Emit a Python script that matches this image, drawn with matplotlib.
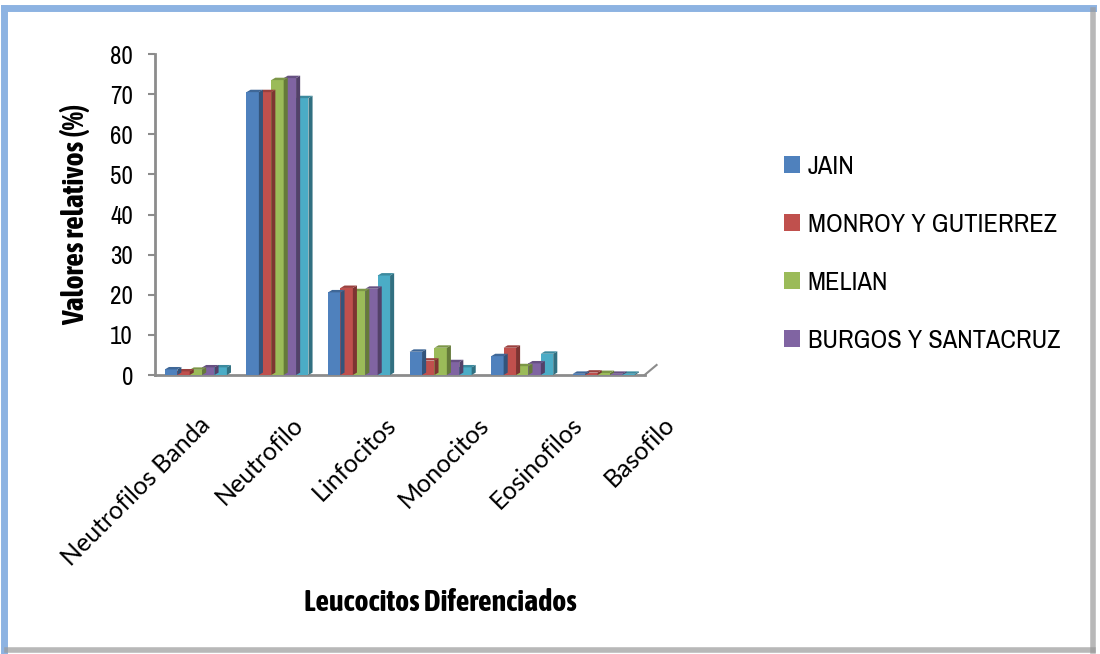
import matplotlib.pyplot as plt
import matplotlib.colors as mcolors
from matplotlib import font_manager as fm
from matplotlib.patches import Polygon
import numpy as np

# Datos
categorias = ['Neutrofilos Banda', 'Neutrofilo', 'Linfocitos', 'Monocitos', 'Eosinofilos', 'Basofilo']
jain = [1.4, 70.5, 20.6, 5.8, 4.7, 0.3]
monroy = [0.9, 70.5, 21.7, 3.6, 6.8, 0.6]
melian = [1.3, 73.5, 20.9, 6.8, 2.2, 0.5]
burgos = [1.9, 74.0, 21.5, 3.2, 2.9, 0.3]
quinta = [1.9, 69.0, 24.8, 1.9, 5.3, 0.3]

series = [jain, monroy, melian, burgos, quinta]
nombres = ['JAIN', 'MONROY Y GUTIERREZ', 'MELIAN', 'BURGOS Y SANTACRUZ', None]
colores = ['#4F81BD', '#C0504D', '#9BBB59', '#8064A2', '#4BACC6']


def peso(f):
    wgt = f.weight
    if isinstance(wgt, str):
        wgt = fm.weight_dict.get(wgt, 400)
    return int(wgt)


# buscar una fuente estrecha si existe (y una con negrita)
nombres_fuentes = sorted({f.name for f in fm.fontManager.ttflist})
estrechas = [n for n in nombres_fuentes if 'Narrow' in n or 'Condensed' in n]
estrechas_negrita = [n for n in estrechas
                     if any(f.name == n and peso(f) >= 600 for f in fm.fontManager.ttflist)]
fuente = estrechas[:1] + ['Liberation Sans', 'DejaVu Sans']
fuente_negrita = estrechas_negrita[:1] + ['Roboto', 'DejaVu Sans']
fuente_ejes = ['Lato', 'Open Sans', 'DejaVu Sans']
plt.rcParams['font.family'] = fuente

fig = plt.figure(figsize=(11, 6.54), dpi=100)

# marco del grafico (borde azul arriba/izquierda, sombra gris)
fig.add_artist(plt.Line2D([0.004, 0.004], [0.005, 0.988], color='#8DB3E2', lw=5, transform=fig.transFigure))
fig.add_artist(plt.Line2D([0.004, 0.994], [0.988, 0.988], color='#8DB3E2', lw=5, transform=fig.transFigure))
fig.add_artist(plt.Line2D([0.994, 0.994], [0.005, 0.985], color='#9A9A9A', lw=4, alpha=0.7, transform=fig.transFigure))
fig.add_artist(plt.Line2D([0.006, 0.994], [0.006, 0.006], color='#9A9A9A', lw=4, alpha=0.7, transform=fig.transFigure))

ax = fig.add_axes([0.141, 0.4266, 0.445, 0.4908])
ax.set_xlim(-0.5, 5.5)
ax.set_ylim(0, 80)

x = np.arange(len(categorias))
w = 0.152
dx, dy = 0.05, 0.6


def oscuro(c, f=0.65):
    r, g, b = mcolors.to_rgb(c)
    return (r * f, g * f, b * f)


for i, (vals, col, nom) in enumerate(zip(series, colores, nombres)):
    pos = x + (i - 2) * w
    ax.bar(pos, vals, width=w, color=col, edgecolor='none', label=nom if nom else '_nolegend_', zorder=3)
    for p, h in zip(pos, vals):
        x0 = p - w / 2
        x1 = p + w / 2
        lado = Polygon([(x1, 0), (x1 + dx, dy), (x1 + dx, h + dy), (x1, h)],
                       closed=True, facecolor=oscuro(col), edgecolor='none', zorder=3 + 0.1 * (5 - i), clip_on=False)
        tapa = Polygon([(x0, h), (x0 + dx, h + dy), (x1 + dx, h + dy), (x1, h)],
                       closed=True, facecolor=oscuro(col, 0.8), edgecolor='none', zorder=3 + 0.1 * (5 - i), clip_on=False)
        ax.add_patch(lado)
        ax.add_patch(tapa)

# piso
ax.plot([5.5, 5.5 + 0.147], [0, 2.5], color='#8C8C8C', lw=1.5, clip_on=False, zorder=2)

for s in ['top', 'right']:
    ax.spines[s].set_visible(False)
ax.spines['left'].set_color('#8C8C8C')
ax.spines['left'].set_linewidth(2)
ax.spines['bottom'].set_color('#8C8C8C')
ax.spines['bottom'].set_linewidth(2)

ax.set_yticks(range(0, 81, 10))
ax.tick_params(axis='y', length=5, width=1.5, color='#8C8C8C', labelsize=18, pad=11)
ax.set_xticks([])

# etiquetas de categoria: en el grafico 3D quedan algo mas separadas que las barras
ax_lab = fig.add_axes([0.1377, 0.4266, 0.5073, 0.4908], facecolor='none')
ax_lab.set_xlim(-0.5, 5.5)
for s in ax_lab.spines.values():
    s.set_visible(False)
ax_lab.set_yticks([])
ax_lab.set_xticks(x)
ax_lab.set_xticklabels(categorias, rotation=45, ha='right', rotation_mode='anchor',
                       fontsize=18, family=fuente_ejes)
ax_lab.tick_params(axis='x', length=0, pad=27)

ax.set_ylabel('Valores relativos (%)', fontsize=21.5, fontweight='bold', family=fuente_negrita, labelpad=14)
fig.text(0.40, 0.078, 'Leucocitos Diferenciados', fontsize=21.5, fontweight='bold', family=fuente_negrita,
         ha='center', va='center')

leg = ax.legend(loc='upper left', bbox_to_anchor=(0.691, 0.80), bbox_transform=fig.transFigure,
                frameon=False, fontsize=19, handlelength=0.6, handleheight=0.6,
                handletextpad=0.3, labelspacing=1.33)

fig.savefig('out.png', dpi=100)
